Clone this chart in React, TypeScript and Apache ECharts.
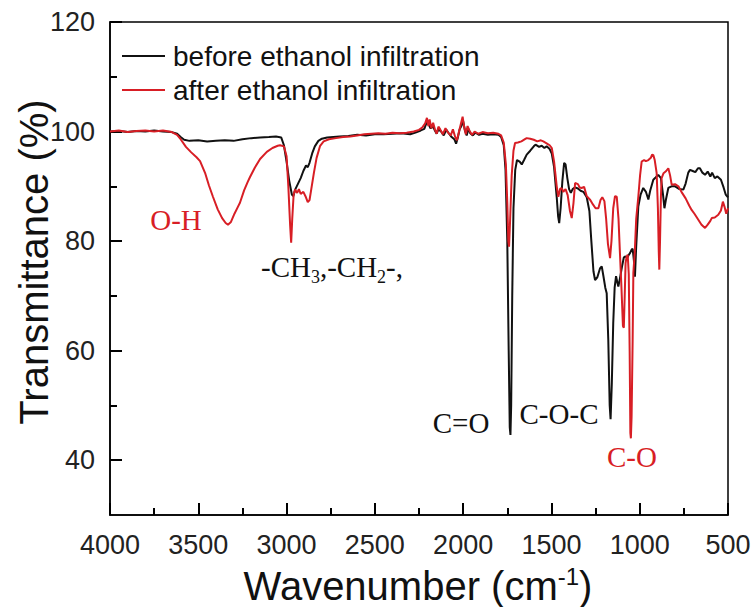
import React, { useEffect, useRef } from 'react';
import * as echarts from 'echarts';

// Wavenumber (cm-1) and transmittance (%)
const beforeWn = [
  4000, 3950, 3900, 3850, 3800, 3750, 3700, 3650, 3620, 3600, 3580, 3550, 3500, 3450, 3400, 3350, 3300, 3250, 3200, 3150,
  3100, 3060, 3030, 3015, 3000, 2985, 2970, 2962, 2950, 2935, 2920, 2905, 2890, 2880, 2870, 2855, 2840, 2820, 2800, 2770,
  2700, 2650, 2600, 2550, 2500, 2450, 2400, 2350, 2300, 2270, 2240, 2220, 2205, 2195, 2185, 2170, 2160, 2150, 2140, 2125,
  2110, 2095, 2080, 2065, 2050, 2040, 2030, 2020, 2010, 2000, 1990, 1980, 1970, 1960, 1945, 1930, 1910, 1890, 1860, 1830,
  1800, 1785, 1770, 1760, 1750, 1742, 1736, 1732, 1728, 1722, 1715, 1705, 1695, 1680, 1668, 1655, 1640, 1620, 1600, 1590,
  1570, 1555, 1540, 1527, 1510, 1498, 1485, 1470, 1462, 1456, 1448, 1438, 1428, 1420, 1410, 1400, 1390, 1380, 1366, 1350,
  1335, 1319, 1300, 1285, 1275, 1262, 1253, 1240, 1225, 1215, 1205, 1195, 1187, 1178, 1170, 1165, 1158, 1150, 1142, 1134,
  1127, 1121, 1112, 1100, 1090, 1083, 1070, 1062, 1055, 1045, 1040, 1033, 1027, 1020, 1008, 995, 980, 965, 951, 940,
  923, 910, 895, 880, 868, 860, 852, 838, 820, 800, 775, 753, 740, 725, 715, 700, 685, 670, 659, 645,
  630, 615, 600, 590, 575, 560, 540, 525, 513, 500
];
const beforeT = [
  100.0, 100.1, 99.9, 100.1, 100.0, 100.2, 100.0, 99.9, 99.6, 99.0, 98.5, 98.3, 98.4, 98.2, 98.3, 98.4, 98.3, 98.6, 98.8, 98.9,
  99.0, 99.1, 98.9, 97.5, 94.5, 91.0, 88.5, 88.2, 89.5, 90.5, 91.5, 92.8, 93.8, 93.5, 94.3, 96.0, 97.3, 98.3, 98.7, 98.9,
  99.1, 99.2, 99.4, 99.3, 99.5, 99.5, 99.6, 99.7, 99.5, 99.8, 100.2, 100.5, 101.8, 101.3, 100.6, 100.9, 100.2, 99.6, 100.4, 100.0,
  99.3, 100.3, 99.6, 99.0, 98.6, 97.8, 98.9, 100.4, 101.0, 101.9, 100.2, 99.3, 100.5, 99.7, 99.3, 99.8, 99.4, 99.6, 99.4, 99.5,
  99.4, 99.0, 97.5, 93.0, 80.0, 60.0, 46.0, 44.6, 50.0, 70.0, 86.0, 93.0, 94.8, 94.5, 94.0, 94.8, 95.8, 96.5, 97.3, 97.6,
  97.2, 97.4, 97.0, 97.3, 96.8, 96.0, 93.5, 88.0, 84.5, 83.3, 86.0, 91.0, 94.3, 94.0, 91.5, 89.5, 88.8, 89.5, 89.8, 89.6,
  89.2, 89.0, 88.0, 85.5, 80.5, 74.5, 72.9, 73.4, 75.0, 75.4, 73.5, 71.5, 70.5, 62.0, 50.0, 47.5, 54.0, 65.0, 71.5, 73.6,
  72.5, 71.7, 73.2, 75.4, 77.0, 77.2, 77.0, 77.5, 77.8, 78.5, 78.6, 76.5, 73.5, 79.0, 86.3, 88.5, 89.7, 89.0, 87.6, 89.3,
  91.2, 91.6, 92.1, 91.5, 88.5, 86.0, 87.5, 89.7, 90.0, 90.0, 89.5, 89.4, 90.5, 92.5, 93.0, 92.8, 92.6, 93.3, 93.3, 92.5,
  92.1, 92.7, 91.8, 92.5, 91.5, 91.8, 91.2, 89.8, 88.5, 88.0
];

const afterWn = [
  4000, 3950, 3900, 3850, 3800, 3750, 3700, 3650, 3620, 3600, 3570, 3540, 3510, 3490, 3460, 3440, 3417, 3390, 3365, 3345,
  3332, 3315, 3295, 3275, 3264, 3240, 3220, 3207, 3180, 3150, 3112, 3080, 3050, 3037, 3015, 3000, 2990, 2980, 2974, 2968,
  2960, 2952, 2940, 2930, 2920, 2905, 2893, 2880, 2870, 2860, 2845, 2830, 2810, 2790, 2760, 2720, 2680, 2640, 2600, 2560,
  2520, 2480, 2440, 2400, 2360, 2320, 2280, 2250, 2230, 2215, 2205, 2197, 2190, 2180, 2170, 2160, 2150, 2140, 2130, 2115,
  2100, 2085, 2070, 2058, 2045, 2035, 2025, 2012, 2003, 1995, 1985, 1975, 1965, 1950, 1935, 1915, 1890, 1860, 1830, 1800,
  1785, 1770, 1758, 1750, 1744, 1740, 1735, 1725, 1715, 1706, 1690, 1670, 1650, 1640, 1620, 1600, 1580, 1560, 1546, 1525,
  1510, 1498, 1485, 1470, 1461, 1450, 1440, 1433, 1420, 1408, 1395, 1385, 1375, 1366, 1350, 1340, 1329, 1315, 1300, 1280,
  1265, 1250, 1234, 1222, 1212, 1200, 1190, 1180, 1168, 1160, 1150, 1140, 1130, 1120, 1112, 1104, 1095, 1090, 1085, 1080,
  1074, 1068, 1062, 1057, 1053, 1050, 1046, 1040, 1036, 1028, 1020, 1008, 998, 989, 975, 965, 951, 937, 930, 923,
  915, 904, 897, 892, 889, 885, 880, 876, 865, 850, 838, 828, 819, 800, 781, 760, 740, 720, 706, 690,
  670, 650, 630, 615, 600, 592, 575, 555, 540, 529, 520, 510, 500
];
const afterT = [
  100.0, 100.2, 99.9, 100.1, 100.2, 100.0, 100.2, 99.9, 99.4, 98.6, 97.2, 96.2, 95.3, 94.6, 92.3, 90.2, 88.1, 85.8, 84.2, 83.3,
  83.0, 83.5, 85.0, 86.3, 87.0, 89.3, 90.8, 91.7, 93.4, 95.0, 96.3, 97.0, 97.4, 97.5, 97.3, 95.5, 90.0, 83.0, 79.7, 84.0,
  88.5, 89.4, 88.8, 89.5, 88.6, 89.0, 88.2, 87.1, 87.5, 89.5, 92.5, 95.2, 97.4, 98.2, 98.6, 98.8, 99.0, 99.1, 99.3, 99.5,
  99.6, 99.7, 99.6, 99.8, 99.7, 99.8, 100.0, 100.3, 100.8, 101.5, 102.5, 101.0, 102.2, 100.6, 101.6, 100.4, 99.6, 100.9, 100.4, 99.5,
  100.6, 99.8, 99.3, 100.4, 99.0, 98.4, 99.8, 101.5, 102.7, 101.0, 99.5, 101.0, 100.2, 99.4, 100.0, 99.6, 99.9, 99.7, 99.8, 99.6,
  99.3, 98.0, 94.0, 87.0, 80.0, 79.0, 83.0, 92.0, 96.5, 97.9, 98.0, 98.2, 98.6, 98.8, 98.7, 98.5, 98.2, 98.4, 98.2, 97.8,
  97.5, 97.0, 94.5, 90.0, 88.1, 89.6, 89.6, 89.0, 89.5, 88.4, 85.5, 84.2, 87.0, 90.6, 90.4, 89.8, 89.7, 89.9, 88.2, 87.5,
  86.7, 86.0, 86.0, 87.5, 88.0, 87.3, 84.0, 79.5, 76.9, 80.0, 86.0, 88.2, 88.1, 84.0, 77.8, 72.0, 64.5, 64.2, 70.0, 76.0,
  77.2, 77.5, 74.0, 60.0, 45.0, 44.0, 48.0, 62.0, 74.2, 78.0, 84.0, 88.1, 92.0, 94.5, 94.8, 94.6, 94.8, 95.2, 95.8, 95.7,
  94.8, 92.4, 86.0, 78.0, 74.8, 80.0, 88.0, 91.5, 92.4, 92.8, 93.3, 92.0, 90.3, 90.4, 90.0, 88.8, 87.8, 86.5, 85.7, 85.0,
  84.0, 83.0, 82.4, 83.0, 83.7, 84.2, 84.3, 84.8, 85.6, 87.2, 86.3, 85.0, 86.0
];

const seriesNames = ['before ethanol infiltration', 'after ethanol infiltration'];
const yLabelValues = [40, 60, 80, 100, 120];
const yMinorValues = [50, 70, 90, 110];

const BLACK = '#111111';
const RED = '#d81e25';
const SANS = 'Liberation Sans, Arial, sans-serif';
const SERIF = 'Liberation Serif, Times New Roman, serif';

export default function App() {
  const ref = useRef<HTMLDivElement>(null);
  useEffect(() => {
    if (!ref.current) return;
    const chart = echarts.init(ref.current, undefined, { renderer: 'svg' });
    const before = beforeWn.map((w, i) => [w, beforeT[i]]);
    const after = afterWn.map((w, i) => [w, afterT[i]]);
    const annot = (text: string, x: number, y: number, color: string, extra: any = {}) => ({
      type: 'text',
      x,
      y,
      z: 100,
      style: {
        text,
        fill: color,
        fontSize: 29,
        fontFamily: SERIF,
        align: 'center',
        verticalAlign: 'middle',
        ...extra,
      },
    });
    const xBase = { type: 'value', min: 500, max: 4000, interval: 500, inverse: true, position: 'bottom' };
    const yBase = { type: 'value', min: 30, max: 120, interval: 10, position: 'left', offset: 0 };
    chart.setOption({
      animation: false,
      backgroundColor: '#ffffff',
      grid: {
        left: 110,
        right: 27,
        top: 22,
        bottom: 92,
        show: true,
        borderColor: '#000',
        borderWidth: 1.5,
      },
      legend: {
        data: seriesNames,
        orient: 'vertical',
        left: 122,
        top: 41,
        itemWidth: 43,
        itemHeight: 2,
        itemGap: 4,
        icon: 'rect',
        padding: 0,
        textStyle: { fontSize: 28, lineHeight: 30, color: BLACK, fontFamily: SANS, padding: [0, 0, 0, 3] },
      },
      xAxis: [
        {
          ...xBase,
          axisLine: { show: true, lineStyle: { color: '#000', width: 1.5 } },
          axisTick: { show: true, inside: true, length: 12, lineStyle: { color: '#000', width: 2 } },
          minorTick: { show: true, splitNumber: 2, length: 7, lineStyle: { color: '#000', width: 2 } },
          splitLine: { show: false },
          axisLabel: { fontSize: 27, color: '#222', fontFamily: SANS, margin: 16, formatter: (v: number) => String(v) },
        },
        {
          ...xBase,
          axisLine: { show: false },
          axisTick: { show: true, inside: true, length: 12, lineStyle: { color: '#000', width: 2 } },
          minorTick: { show: true, splitNumber: 2, length: 7, lineStyle: { color: '#000', width: 2 } },
          splitLine: { show: false },
          axisLabel: { show: false },
        },
      ],
      yAxis: [
        {
          ...yBase,
          axisLine: { show: true, lineStyle: { color: '#000', width: 1.5 } },
          axisTick: { show: true, inside: true, length: 12, customValues: yLabelValues, lineStyle: { color: '#000', width: 2 } },
          splitLine: { show: false },
          axisLabel: {
            fontSize: 27,
            color: '#222',
            fontFamily: SANS,
            margin: 15,
            customValues: yLabelValues,
            formatter: (v: number) => String(v),
          },
        },
        {
          ...yBase,
          axisLine: { show: false },
          axisTick: { show: true, inside: true, length: 7, customValues: yMinorValues, lineStyle: { color: '#000', width: 2 } },
          splitLine: { show: false },
          axisLabel: { show: false },
        },
        {
          ...yBase,
          axisLine: { show: false },
          axisTick: { show: true, inside: true, length: 12, customValues: yLabelValues, lineStyle: { color: '#000', width: 2 } },
          splitLine: { show: false },
          axisLabel: { show: false },
        },
      ],
      series: [
        {
          name: seriesNames[0],
          type: 'line',
          xAxisIndex: 0,
          yAxisIndex: 0,
          data: before,
          showSymbol: false,
          symbol: 'none',
          color: BLACK,
          lineStyle: { color: BLACK, width: 2 },
        },
        {
          name: seriesNames[1],
          type: 'line',
          xAxisIndex: 0,
          yAxisIndex: 0,
          data: after,
          showSymbol: false,
          symbol: 'none',
          color: RED,
          lineStyle: { color: RED, width: 2 },
        },
      ],
      graphic: [
        annot('O-H', 176, 220, RED),
        annot('-CH{s|3},-CH{s|2}-,', 332, 267, BLACK, {
          rich: { s: { fontSize: 18, fontFamily: SERIF, fill: BLACK, padding: [20, 0, 0, 0] } },
        }),
        annot('C=O', 461, 423, BLACK),
        annot('C-O-C', 559, 414, BLACK),
        annot('C-O', 632, 457, RED),
        {
          type: 'text',
          x: 418,
          y: 586,
          style: {
            text: 'Wavenumber (cm{sup|-1})',
            fill: BLACK,
            fontSize: 40,
            fontFamily: SANS,
            align: 'center',
            verticalAlign: 'middle',
            rich: { sup: { fontSize: 24, fontFamily: SANS, fill: BLACK, padding: [0, 0, 20, 0] } },
          },
        },
        {
          type: 'text',
          x: 34,
          y: 262,
          rotation: Math.PI / 2,
          style: {
            text: 'Transmittance (%)',
            fill: BLACK,
            fontSize: 40,
            fontFamily: SANS,
            align: 'center',
            verticalAlign: 'middle',
          },
        },
      ],
    });
    return () => chart.dispose();
  }, []);
  return <div ref={ref} style={{ width: 755, height: 607, position: 'absolute', left: 0, top: 0 }} />;
}
